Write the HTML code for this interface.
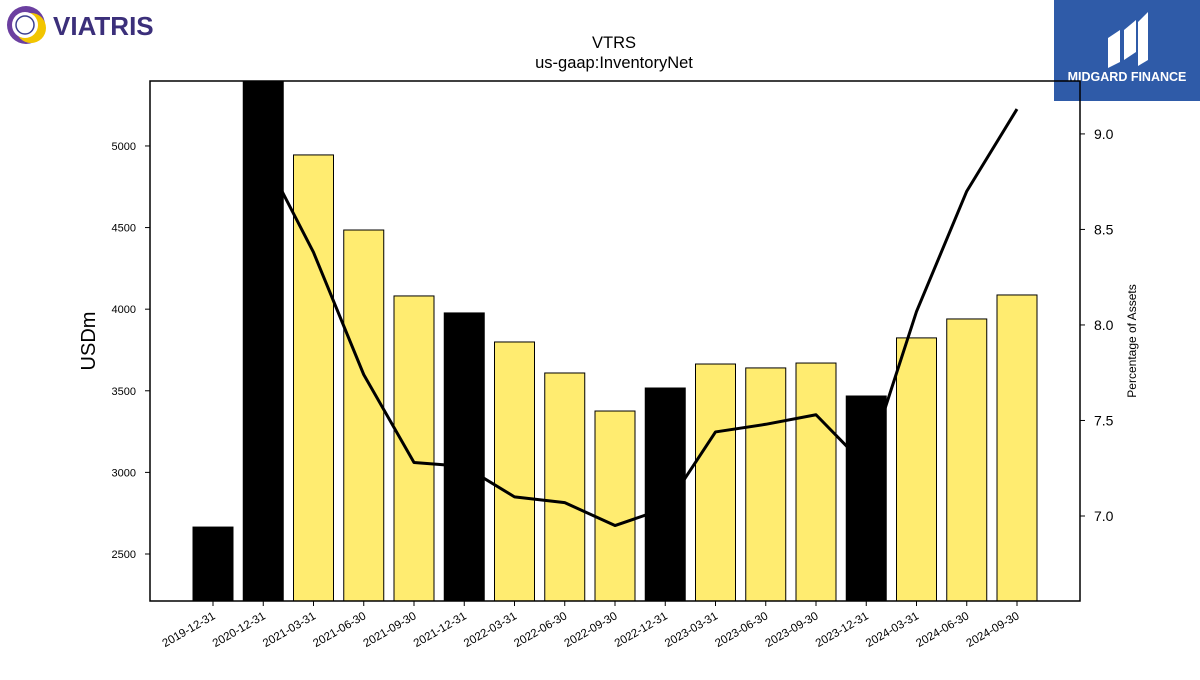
<!DOCTYPE html>
<html><head><meta charset="utf-8"><style>
body{margin:0;background:#fff;width:1200px;height:675px;overflow:hidden;font-family:"Liberation Sans","DejaVu Sans",sans-serif}
</style></head><body>
<svg id="c" width="1200" height="675" xmlns="http://www.w3.org/2000/svg">
<g>
<circle cx="26" cy="25" r="19" fill="#6b3fa0"/><circle cx="31" cy="28" r="15" fill="#f2c500"/><circle cx="25" cy="25" r="13" fill="#fff"/>
<circle cx="25" cy="25" r="9" fill="none" stroke="#3b3f8f" stroke-width="1.5"/>
<text x="53" y="35" font-size="26" font-weight="bold" fill="#3b2f7a">VIATRIS</text></g>
<g>
<rect x="1054" y="0" width="146" height="101" fill="#2f5ba8"/>
<path d="M1108 68 V38 L1120 30 V62 Z M1124 60 V30 L1136 20 V52 Z M1138 66 V22 L1148 12 V60 Z" fill="#fff"/>
<text x="1127" y="81" font-size="12.5" font-weight="bold" fill="#fff" text-anchor="middle">MIDGARD FINANCE</text></g>
<text x="614" y="48" font-size="16.5" text-anchor="middle">VTRS</text>
<text x="614" y="68" font-size="16.5" text-anchor="middle">us-gaap:InventoryNet</text>
<text transform="translate(95,341) rotate(-90)" font-size="20" text-anchor="middle">USDm</text>
<text transform="translate(1136,341) rotate(-90)" font-size="12" text-anchor="middle">Percentage of Assets</text>
<g id="plot"></g>
<rect x="150" y="81" width="930" height="520" fill="none" stroke="#000" stroke-width="1.5"/>
</svg>
<script>
const categories=["2019-12-31","2020-12-31","2021-03-31","2021-06-30","2021-09-30","2021-12-31","2022-03-31","2022-06-30","2022-09-30","2022-12-31","2023-03-31","2023-06-30","2023-09-30","2023-12-31","2024-03-31","2024-06-30","2024-09-30"];
const inventory=[2665,5420,4945,4485,4081,3977,3799,3609,3376,3517,3664,3640,3670,3468,3824,3940,4087];
const annual=[true,true,false,false,false,true,false,false,false,true,false,false,false,true,false,false,false];
const pctAssets=[null,8.89,8.38,7.74,7.28,7.26,7.10,7.07,6.95,7.04,7.44,7.48,7.53,7.26,8.07,8.70,9.13];
const leftTicks=[2500,3000,3500,4000,4500,5000];
const rightTicks=[7.0,7.5,8.0,8.5,9.0];
const NS="http://www.w3.org/2000/svg";
const L=150,R=1080,T=81,B=601;
const yL=v=>B-(v-2212)/(5398-2212)*(B-T);
const yR=v=>B-(v-6.555)/(9.277-6.555)*(B-T);
const xC=i=>213+i*50.25;
const g=document.getElementById('plot');
function mk(t,a){const e=document.createElementNS(NS,t);for(const k in a)e.setAttribute(k,a[k]);g.appendChild(e);return e;}
function bar(i){const y=Math.max(T,yL(inventory[i]));
const r=mk('rect',{x:xC(i)-20,y:y,width:40,height:B-y,fill:annual[i]?'#000':'#ffec70',stroke:'#000','stroke-width':1});

}
categories.forEach((c,i)=>{if(!annual[i])bar(i);});
let d='';pctAssets.forEach((v,i)=>{if(v==null)return;d+=(d?'L':'M')+xC(i)+' '+yR(v);});
const ln=mk('path',{d:d,fill:'none',stroke:'#000','stroke-width':3,'stroke-linejoin':'round'});


categories.forEach((c,i)=>{if(annual[i])bar(i);});
leftTicks.forEach(v=>{const y=yL(v);mk('line',{x1:L-5,x2:L,y1:y,y2:y,stroke:'#000'});
const t=mk('text',{x:L-14,y:y+4,'font-size':11,'text-anchor':'end'});t.textContent=v;

});
rightTicks.forEach(v=>{const y=yR(v);mk('line',{x1:R,x2:R+5,y1:y,y2:y,stroke:'#000'});
const t=mk('text',{x:R+14,y:y+5,'font-size':14});t.textContent=v.toFixed(1);

});
categories.forEach((c,i)=>{const x=xC(i);mk('line',{x1:x,x2:x,y1:B,y2:B+5,stroke:'#000'});
const t=mk('text',{x:x+3,y:B+17,'font-size':11.5,'text-anchor':'end',transform:`rotate(-30 ${x+3} ${B+17})`});t.textContent=c;

});
</script>
</body></html>
